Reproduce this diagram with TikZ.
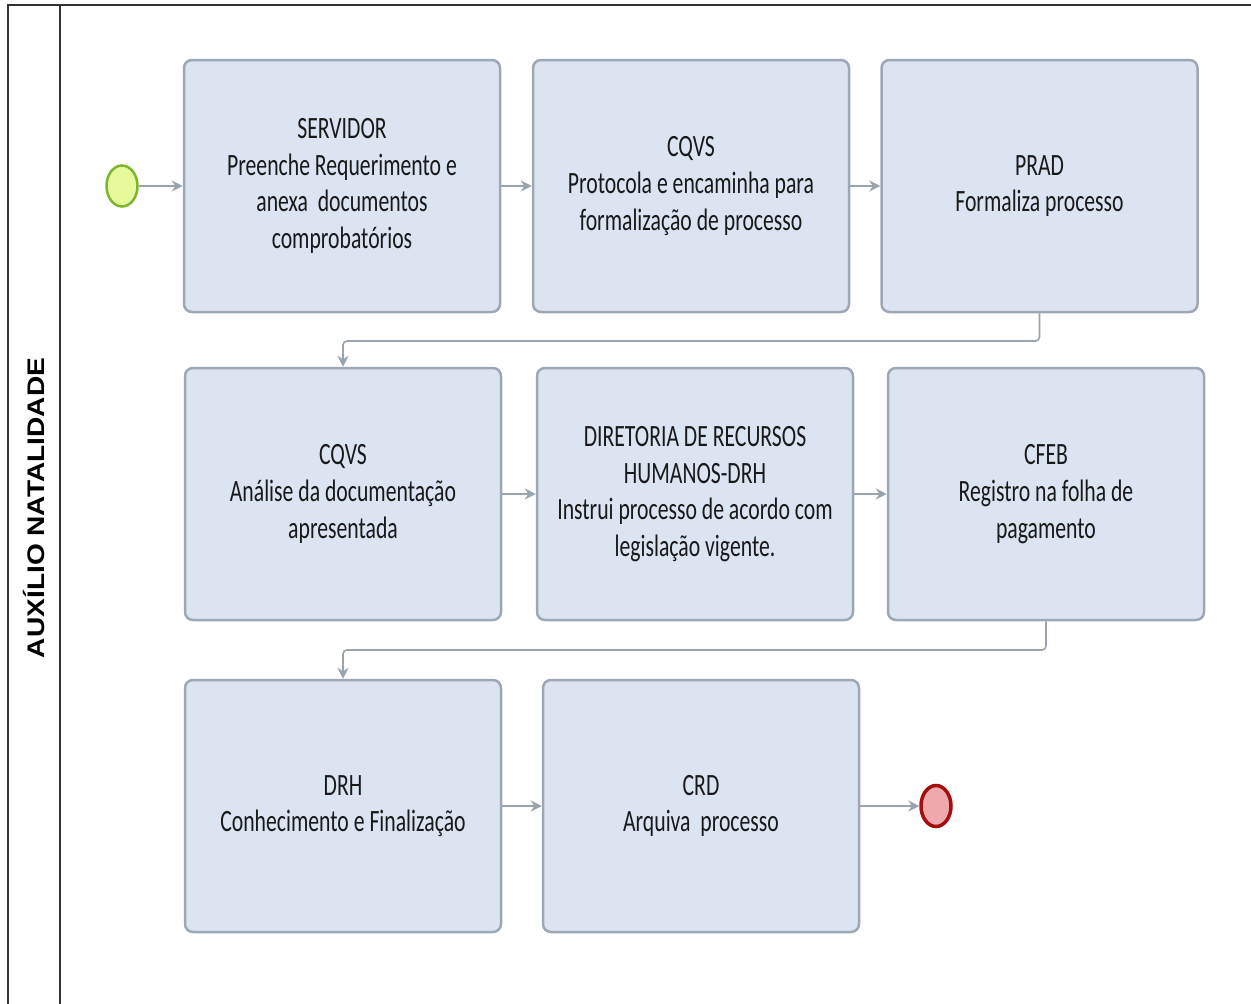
\documentclass[tikz,border=0pt]{standalone}
\usepackage{fontspec}
\usetikzlibrary{arrows.meta,shapes.geometric}
\newfontfamily\boxfont[FakeStretch=0.70]{Carlito}
\newfontfamily\lanefont[FakeStretch=1.17]{Liberation Sans}
\definecolor{boxfill}{HTML}{DBE4F0}
\definecolor{boxline}{HTML}{9EA8B4}
\definecolor{connline}{HTML}{9AA4AE}
\definecolor{startfill}{HTML}{E6FA9C}
\definecolor{startline}{HTML}{7DB52C}
\definecolor{endfill}{HTML}{EDA9AB}
\definecolor{endline}{HTML}{A50E0E}
\tikzset{
  task/.style={draw=boxline, fill=boxfill, line width=2.5pt, rounded corners=8pt,
    minimum width=316pt, minimum height=252pt, inner sep=0pt, align=center,
    text=black!90, font=\boxfont\fontsize{31}{36.7}\selectfont},
  conn/.style={draw=connline, line width=1.6pt, -{Stealth[length=11pt,width=11pt]}},
  startev/.style={ellipse, draw=startline, fill=startfill, line width=2.5pt,
    minimum width=31pt, minimum height=41pt, inner sep=0pt},
  endev/.style={ellipse, draw=endline, fill=endfill, line width=3.5pt,
    minimum width=30pt, minimum height=41pt, inner sep=0pt},
  frameline/.style={draw=black!80, line width=1.8pt}
}
\begin{document}
\begin{tikzpicture}[x=1pt,y=-1pt]
\useasboundingbox (0,0) rectangle (1251,1004);
% frame
\draw[frameline] (8,1004) -- (8,5) -- (1251,5);
\draw[frameline] (60,5) -- (60,1004);
\node[rotate=90, font=\lanefont\bfseries\fontsize{24}{28}\selectfont] (lane) at (34,508) {AUXÍLIO NATALIDADE};
% events
\node[startev] (start) at (122,186) {};
\node[endev] (end) at (936,806) {};
% tasks
\node[task] (b1) at (342,186) {SERVIDOR\\Preenche Requerimento e\\anexa\ \ documentos\\comprobatórios};
\node[task] (b2) at (691,186) {CQVS\\Protocola e encaminha para\\formalização de processo};
\node[task] (b3) at (1039.5,186) {PRAD\\Formaliza processo};
\node[task] (b4) at (343,494) {CQVS\\Análise da documentação\\apresentada};
\node[task] (b5) at (695,494) {DIRETORIA DE RECURSOS\\HUMANOS-DRH\\Instrui processo de acordo com\\legislação vigente.};
\node[task] (b6) at (1046,494) {CFEB\\Registro na folha de\\pagamento};
\node[task] (b7) at (343,806) {DRH\\Conhecimento e Finalização};
\node[task] (b8) at (701,806) {CRD\\Arquiva\ \ processo};
% connectors
\coordinate (c1) at (343,341);
\coordinate (c2) at (343,650);
\draw[conn] (start) -- (b1);
\draw[conn] (b1.east) -- (b2.west);
\draw[conn] (b2.east) -- (b3.west);
\draw[conn, rounded corners=4pt] (b3.south) |- (c1) -- (b4.north);
\draw[conn] (b4.east) -- (b5.west);
\draw[conn] (b5.east) -- (b6.west);
\draw[conn, rounded corners=4pt] (b6.south) |- (c2) -- (b7.north);
\draw[conn] (b7.east) -- (b8.west);
\draw[conn] (b8.east) -- (end.west);
\end{tikzpicture}
\end{document}
